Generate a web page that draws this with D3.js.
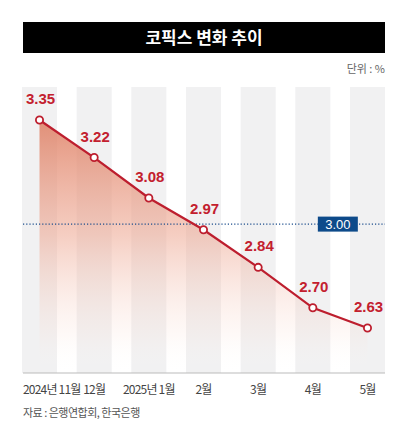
<!DOCTYPE html>
<html>
<head>
<meta charset="utf-8">
<script src="https://cdn.jsdelivr.net/npm/d3@7"></script>
<style>
  body { margin: 0; background: #fff; }
  svg { display: block; }
</style>
</head>
<body>
<div id="chart"></div>
<script>
// Data
const months = ['2024년 11월', '12월', '2025년 1월', '2월', '3월', '4월', '5월'];
const cofix = [3.35, 3.22, 3.08, 2.97, 2.84, 2.70, 2.63];
const refValue = 3.00;

const width = 408, height = 442;
const left = 23, right = 385;
const plotTop = 87, baseY = 373;

const svg = d3.select('#chart').append('svg')
    .attr('width', width)
    .attr('height', height);

// Gradient for the area
const defs = svg.append('defs');
const grad = defs.append('linearGradient')
    .attr('id', 'areaFill')
    .attr('x1', 0).attr('y1', 0).attr('x2', 0).attr('y2', 1);
grad.append('stop').attr('offset', '0%').attr('stop-color', '#de7e62').attr('stop-opacity', 0.85);
grad.append('stop').attr('offset', '45%').attr('stop-color', '#eda48e').attr('stop-opacity', 0.55);
grad.append('stop').attr('offset', '85%').attr('stop-color', '#f8d8cc').attr('stop-opacity', 0.15);
grad.append('stop').attr('offset', '100%').attr('stop-color', '#ffffff').attr('stop-opacity', 0);

// Scales
const x = d3.scalePoint()
    .domain(months)
    .range([39.5, 367.5]);

const y = d3.scaleLinear()
    .domain([2.63, 3.35])
    .range([328, 120]);

// Title bar
svg.append('rect')
    .attr('x', left).attr('y', 22)
    .attr('width', right - left).attr('height', 31)
    .attr('fill', '#000');
svg.append('text')
    .attr('x', (left + right) / 2).attr('y', 44)
    .attr('text-anchor', 'middle')
    .attr('fill', '#fff')
    .style('font-family', '"Noto Sans CJK KR"')
    .style('font-weight', 700)
    .style('font-size', '17px')
    .text('코픽스 변화 추이');

// Unit
svg.append('text')
    .attr('x', right).attr('y', 73)
    .attr('text-anchor', 'end')
    .attr('fill', '#666')
    .style('font-family', '"Noto Sans CJK KR"')
    .style('font-size', '11px')
    .text('단위 : %');

// Column bands
const colW = 35;
svg.append('g')
    .selectAll('rect')
    .data(months)
    .join('rect')
    .attr('x', d => x(d) - colW / 2)
    .attr('y', plotTop)
    .attr('width', colW)
    .attr('height', baseY - plotTop)
    .attr('fill', '#f1f1f2');

// Area under line
const pts = months.map((m, i) => ({ m, v: cofix[i] }));
const area = d3.area()
    .x(d => x(d.m))
    .y0(baseY)
    .y1(d => y(d.v));
svg.append('path')
    .datum(pts)
    .attr('d', area)
    .attr('fill', 'url(#areaFill)');

// Baseline
svg.append('line')
    .attr('x1', left).attr('x2', right)
    .attr('y1', baseY).attr('y2', baseY)
    .attr('stroke', '#bbb')
    .attr('stroke-width', 1);

// Reference line at 3.00
svg.append('line')
    .attr('x1', left).attr('x2', right)
    .attr('y1', y(refValue) + 3).attr('y2', y(refValue) + 3)
    .attr('stroke', '#1b4d8c')
    .attr('stroke-width', 1.2)
    .attr('stroke-dasharray', '1.2,2');
const refX = x(months[5]) + 25;
svg.append('rect')
    .attr('x', refX - 20).attr('y', y(refValue) - 4.5)
    .attr('width', 40).attr('height', 15)
    .attr('fill', '#0d4a8a');
svg.append('text')
    .attr('x', refX).attr('y', y(refValue) + 7.5)
    .attr('text-anchor', 'middle')
    .attr('fill', '#fff')
    .style('font-family', '"Liberation Sans Narrow", "Liberation Sans"')
    .style('font-size', '13px')
    .text(refValue.toFixed(2));

// Line
const line = d3.line()
    .x(d => x(d.m))
    .y(d => y(d.v));
svg.append('path')
    .datum(pts)
    .attr('d', line)
    .attr('fill', 'none')
    .attr('stroke', '#bd1e2e')
    .attr('stroke-width', 2.2);

// Markers
svg.append('g')
    .selectAll('circle')
    .data(pts)
    .join('circle')
    .attr('cx', d => x(d.m))
    .attr('cy', d => y(d.v))
    .attr('r', 3.6)
    .attr('fill', '#fff')
    .attr('stroke', '#bd1e2e')
    .attr('stroke-width', 1.8);

// Value labels
svg.append('g')
    .selectAll('text')
    .data(pts)
    .join('text')
    .attr('x', d => x(d.m) + 1)
    .attr('y', d => y(d.v) - 16)
    .attr('text-anchor', 'middle')
    .attr('fill', '#c3202e')
    .style('font-family', '"Liberation Sans Narrow", "Liberation Sans"')
    .style('font-weight', 700)
    .style('font-size', '15px')
    .text(d => d.v.toFixed(2));

// X labels
svg.append('g')
    .selectAll('text')
    .data(months)
    .join('text')
    .attr('x', (d, i) => i === 0 ? left : x(d))
    .attr('y', 394)
    .attr('text-anchor', (d, i) => i === 0 ? 'start' : 'middle')
    .attr('fill', '#444')
    .style('font-family', '"Noto Sans CJK KR"')
    .style('font-size', '12px')
    .style('letter-spacing', '-0.8px')
    .text(d => d);

// Source
svg.append('text')
    .attr('x', left).attr('y', 417)
    .attr('fill', '#555')
    .style('font-family', '"Noto Sans CJK KR"')
    .style('font-size', '11px')
    .style('letter-spacing', '-0.5px')
    .text('자료 : 은행연합회, 한국은행');
</script>
</body>
</html>
